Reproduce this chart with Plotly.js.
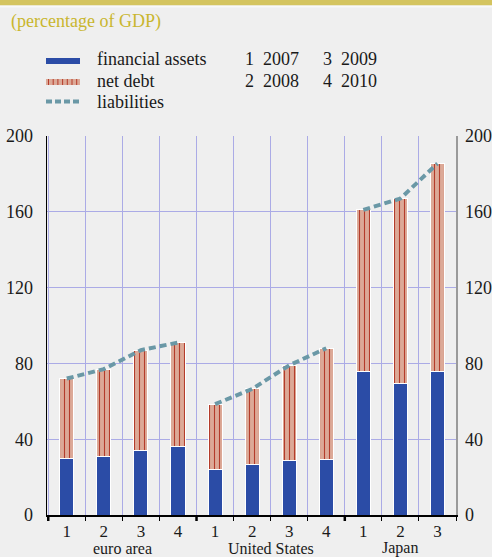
<!DOCTYPE html>
<html><head><meta charset="utf-8">
<script src="https://cdn.plot.ly/plotly-3.0.1.min.js"></script>
<style>html,body{margin:0;padding:0;background:#efefef;overflow:hidden;} #chart{width:492px;height:557px;}</style>
</head><body><div id="chart"></div>
<script>
// ---- data (percentage of GDP) ----
const groups = ['euro area','euro area','euro area','euro area',
                'United States','United States','United States','United States',
                'Japan','Japan','Japan'];
const periods = ['1','2','3','4','1','2','3','4','1','2','3'];
const financialAssets = [30, 31, 34, 36, 24, 26.5, 28.5, 29.5, 75.5, 69.5, 75.5];
const netDebt        = [42, 46, 53, 55, 34.5, 40, 50.5, 58.5, 85.5, 97.5, 110];
const liabilities    = [72, 77, 87, 91, 58.5, 66.5, 79, 88, 161, 167, 185.5];
const yTicks = [0, 40, 80, 120, 160, 200];
const periodKeyNums  = ['1', '2', '3', '4'];
const periodKeyYears = ['2007', '2008', '2009', '2010'];
const seriesNames = ['financial assets', 'net debt', 'liabilities'];

// ---- layout helpers ----
const W = 492, H = 557, L = 47, R = 36, T = 136, B = 42;
const pw = W - L - R, ph = H - T - B;
const px = x => (x - L) / pw;
const py = y => (H - B - y) / ph;
const FONT = '"Liberation Serif","Times New Roman",serif';
const TXT = '#1a1a1a';
const BLUE = '#2b4ca6', SALMON = '#dca997', STRIPE = '#b43c2b', LIAB = '#6a98a6';
const GRID = '#ababe6';

// unique category keys, displayed with the period number only
const cats = groups.map((g, i) => g + ' ' + periods[i]);

const traces = [
  {type: 'bar', x: cats, y: financialAssets, name: seriesNames[0], yaxis: 'y',
   marker: {color: BLUE, line: {color: '#ffffff', width: 1}}, hoverinfo: 'y'},
  {type: 'bar', x: cats, y: netDebt, name: seriesNames[1], yaxis: 'y',
   marker: {color: SALMON, line: {color: '#ffffff', width: 1},
            pattern: {shape: '|', fgcolor: STRIPE, bgcolor: SALMON, size: 5, solidity: 0.22, fillmode: 'replace'}},
   hoverinfo: 'y'}
];
const uniqGroups = [...new Set(groups)];
uniqGroups.forEach(g => {
  const idx = groups.map((v, i) => v === g ? i : -1).filter(i => i >= 0);
  traces.push({type: 'scatter', mode: 'lines', yaxis: 'y2', name: seriesNames[2],
    x: idx.map(i => cats[i]),
    y: idx.map(i => liabilities[i]),
    line: {color: LIAB, width: 4, dash: '7px,4px'}, hoverinfo: 'y'});
});

// ---- legend / decorations ----
const shapes = [
  {type: 'rect', xref: 'paper', yref: 'paper', x0: px(0), x1: px(W), y0: py(0), y1: py(5.5),
   fillcolor: '#d4c45f', line: {width: 0}, layer: 'above'},
  {type: 'rect', xref: 'paper', yref: 'paper', x0: px(0), x1: px(W), y0: py(5.5), y1: py(7.5),
   fillcolor: '#f8f8f8', line: {width: 0}, layer: 'above'},
  {type: 'rect', xref: 'paper', yref: 'paper', x0: px(46), x1: px(80), y0: py(58), y1: py(64),
   fillcolor: BLUE, line: {width: 0}},
  {type: 'rect', xref: 'paper', yref: 'paper', x0: px(46), x1: px(80), y0: py(79), y1: py(85),
   fillcolor: SALMON, line: {width: 0}},
  {type: 'line', xref: 'paper', yref: 'paper', x0: px(46), x1: px(80), y0: py(101.5), y1: py(101.5),
   line: {color: LIAB, width: 4, dash: '6px,3px'}}
];
for (let sx = 48.5; sx < 80; sx += 4.7) {
  shapes.push({type: 'line', xref: 'paper', yref: 'paper', x0: px(sx), x1: px(sx), y0: py(79), y1: py(85),
    line: {color: STRIPE, width: 1}});
}
// heavier ticks at the group boundaries
let start = 0;
uniqGroups.forEach(g => {
  const n = groups.filter(v => v === g).length;
  shapes.push({type: 'line', xref: 'x', yref: 'paper', x0: start - 0.5, x1: start - 0.5,
    y0: py(515), y1: py(521), line: {color: '#000', width: 2.5}});
  start += n;
});

const ann = (text, x, y, color, anchor) => ({text, xref: 'paper', yref: 'paper', x: px(x), y: py(y),
  xanchor: anchor || 'left', yanchor: 'middle', showarrow: false, font: {family: FONT, size: 18, color: color || TXT}});
const annotations = [
  ann('(percentage of GDP)', 9, 21, '#c9b62e'),
  ann(seriesNames[0], 95, 59),
  ann(seriesNames[1], 95, 81),
  ann(seriesNames[2], 95, 102),
  ann(periodKeyNums[0], 243, 59), ann(periodKeyYears[0], 261, 59),
  ann(periodKeyNums[2], 321, 59), ann(periodKeyYears[2], 339, 59),
  ann(periodKeyNums[1], 243, 81), ann(periodKeyYears[1], 261, 81),
  ann(periodKeyNums[3], 321, 81), ann(periodKeyYears[3], 339, 81)
];
// group labels centred under each group
start = 0;
uniqGroups.forEach(g => {
  const n = groups.filter(v => v === g).length;
  annotations.push({text: g, xref: 'x', yref: 'paper', x: start + (n - 1) / 2, y: py(548),
    xanchor: 'center', yanchor: 'middle', showarrow: false, borderpad: 0,
    font: {family: FONT, size: 16, color: TXT}});
  start += n;
});

const layout = {
  width: W, height: H,
  margin: {l: L, r: R, t: T, b: B, pad: 0},
  paper_bgcolor: '#efefef', plot_bgcolor: '#efefef',
  showlegend: false, barmode: 'stack', bargap: 0.62,
  font: {family: FONT, size: 18, color: TXT},
  xaxis: {type: 'category', tickson: 'boundaries', showgrid: true, gridcolor: GRID, gridwidth: 1,
          tickvals: cats, ticktext: periods,
          ticks: 'outside', ticklen: 4, tickcolor: '#000', tickwidth: 1, ticklabelstandoff: 0,
          showline: true, linecolor: '#000', linewidth: 1.5,
          tickfont: {family: FONT, size: 17, color: TXT}, zeroline: false, fixedrange: true},
  yaxis: {range: [0, 200], tickvals: yTicks, showgrid: true, gridcolor: GRID, gridwidth: 1,
          showline: true, linecolor: '#000', linewidth: 1.5, ticks: '', ticklabelstandoff: 9,
          tickfont: {family: FONT, size: 18, color: TXT}, zeroline: false, fixedrange: true},
  yaxis2: {range: [0, 200], tickvals: yTicks, overlaying: 'y', side: 'right', showgrid: false,
           showline: true, linecolor: '#9a9a9a', linewidth: 1.5, ticks: '', ticklabelstandoff: 4,
           tickfont: {family: FONT, size: 18, color: TXT}, zeroline: false, fixedrange: true},
  shapes, annotations
};
Plotly.newPlot('chart', traces, layout, {displayModeBar: false, staticPlot: true});
</script></body></html>
